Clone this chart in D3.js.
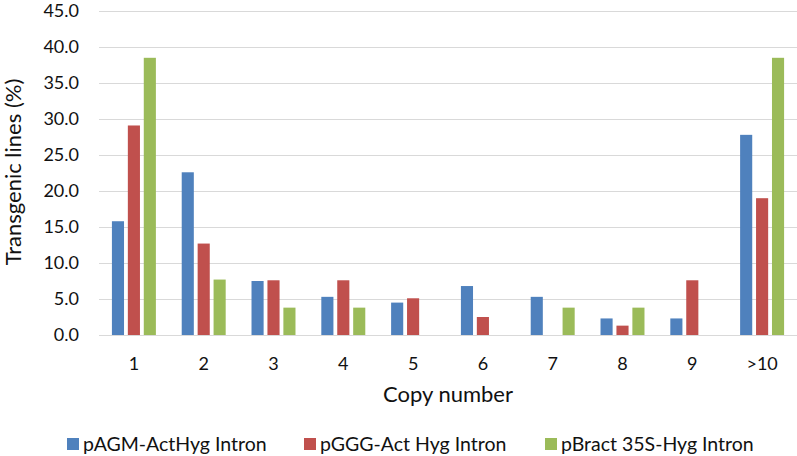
<!DOCTYPE html>
<html><head><meta charset="utf-8">
<script src="https://cdn.jsdelivr.net/npm/d3@7"></script>
<style>body{margin:0;background:#fff;} svg{display:block;}</style>
</head><body>
<svg id="chart" width="797" height="456"></svg>
<script>
const categories = ["1","2","3","4","5","6","7","8","9",">10"];
const seriesNames = ["pAGM-ActHyg Intron","pGGG-Act Hyg Intron","pBract 35S-Hyg Intron"];
const pAGM = [15.8,22.6,7.5,5.3,4.5,6.8,5.3,2.3,2.3,27.8];
const pGGG = [29.1,12.7,7.6,7.6,5.1,2.5,0,1.3,7.6,19.0];
const pBract = [38.5,7.7,3.8,3.8,0,0,3.8,3.8,0,38.5];
const colors = ["#4f81bd","#c0504d","#9bbb59"];
const yTicks = [0,5,10,15,20,25,30,35,40,45];

const seriesValues = [pAGM,pGGG,pBract];
const svg = d3.select("#chart");
const font = "Lato, 'Open Sans', sans-serif";
const margin = {left:99, right:0, top:11, bottom:121};
const W = 797, H = 456;
const x0 = d3.scaleBand().domain(categories).range([margin.left, W - margin.right]).paddingInner(0.37).paddingOuter(0.185);
const x1 = d3.scaleBand().domain(seriesNames).range([0, x0.bandwidth()]).paddingInner(0.24);
const y = d3.scaleLinear().domain([0,45]).range([H - margin.bottom, margin.top]);

// gridlines
const yAxis = d3.axisLeft(y).tickValues(yTicks).tickFormat(d3.format(".1f")).tickSize(-(W - margin.left - margin.right)).tickPadding(20);
const gy = svg.append("g").attr("transform",`translate(${margin.left},0)`).call(yAxis);
gy.select(".domain").remove();
gy.selectAll(".tick line").attr("stroke","#d9d9d9").attr("stroke-width",1);
gy.selectAll(".tick text").attr("font-family",font).attr("font-size","18px").attr("fill","#111");

// bars
const groups = svg.append("g").selectAll("g").data(categories).join("g")
  .attr("transform", d => `translate(${x0(d)},0)`);
groups.selectAll("rect").data((c,i) => seriesNames.map((s,k) => ({s, v: seriesValues[k][i], k})))
  .join("rect")
  .attr("x", d => x1(d.s)).attr("width", x1.bandwidth())
  .attr("y", d => y(d.v)).attr("height", d => y(0) - y(d.v))
  .attr("fill", d => colors[d.k]);

// x axis
const xAxis = d3.axisBottom(x0).tickSize(0).tickPadding(22);
const gx = svg.append("g").attr("transform",`translate(0,${y(0)})`).call(xAxis);
gx.select(".domain").attr("stroke","#d9d9d9");
gx.selectAll(".tick text").attr("font-family",font).attr("font-size","18px").attr("fill","#111");

// axis titles
svg.append("text").attr("x",(margin.left + W - margin.right)/2).attr("y",402)
  .attr("text-anchor","middle").attr("font-family",font).attr("font-size","22px").attr("fill","#111").text("Copy number");
svg.append("text").attr("transform","translate(21,172) rotate(-90)")
  .attr("text-anchor","middle").attr("font-family",font).attr("font-size","22px").attr("fill","#111").text("Transgenic lines (%)");

// legend
const legendX = [67,304,545];
const lg = svg.append("g").selectAll("g").data(seriesNames).join("g")
  .attr("transform",(d,i)=>`translate(${legendX[i]},438)`);
lg.append("rect").attr("width",12).attr("height",12).attr("fill",(d,i)=>colors[i]);
lg.append("text").attr("x",16).attr("y",13).attr("font-family",font).attr("font-size","19.5px").attr("fill","#111").text(d=>d);
</script>
</body></html>
